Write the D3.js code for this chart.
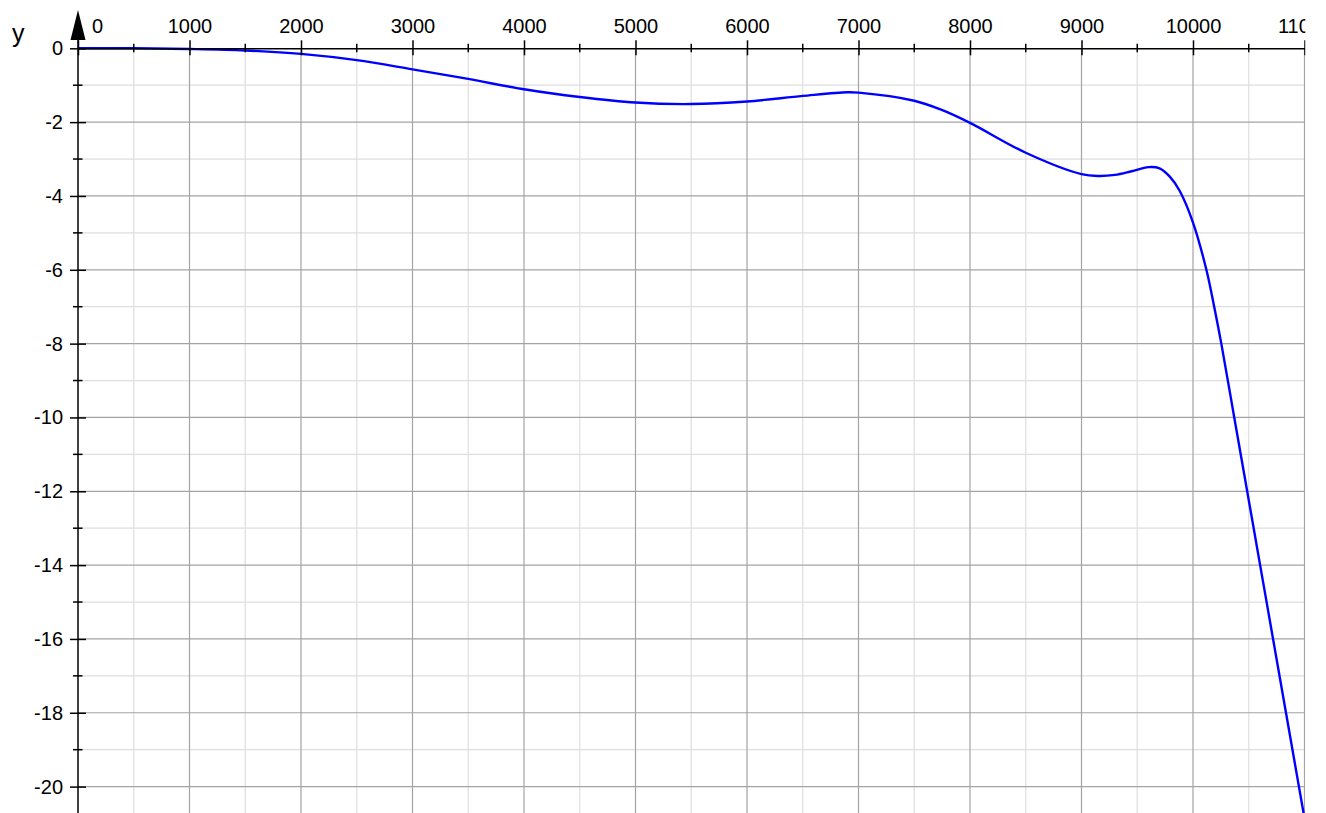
<!DOCTYPE html>
<html>
<head>
<meta charset="utf-8">
<script src="https://cdn.jsdelivr.net/npm/d3@7"></script>
<style>
  html, body { margin: 0; padding: 0; background: #fff; }
  svg { display: block; font-family: "Liberation Sans", Arial, Helvetica, sans-serif; }
</style>
</head>
<body>
<div id="chart-container"></div>
<script>
// data
const curveX = [0, 500, 1000, 1500, 2000, 2500, 3000, 3500, 4000, 4500, 5000, 5500, 6000, 6500, 6900, 7000, 7500, 7730, 8000, 8500, 9000, 9150, 9300, 9450, 9600, 9700, 9790, 9880, 10000, 10120, 10190, 10254, 10370, 10486, 10602, 10718, 10834, 10950, 11000];
const curveY = [0, 0, -0.02, -0.06, -0.15, -0.32, -0.57, -0.83, -1.11, -1.32, -1.47, -1.51, -1.44, -1.29, -1.19, -1.2, -1.42, -1.65, -2.02, -2.83, -3.41, -3.46, -3.43, -3.33, -3.22, -3.25, -3.47, -3.86, -4.72, -6, -7, -8, -10, -12, -14, -16, -18, -20, -20.86];
const xMajorTicks = [0, 1000, 2000, 3000, 4000, 5000, 6000, 7000, 8000, 9000, 10000, 11000];
const xMinorTicks = [500, 1500, 2500, 3500, 4500, 5500, 6500, 7500, 8500, 9500, 10500];
const yMajorTicks = [0, -2, -4, -6, -8, -10, -12, -14, -16, -18, -20];
const yMinorTicks = [-1, -3, -5, -7, -9, -11, -13, -15, -17, -19];

const W = 1326;
const H = 813;
const plot = { left: 78, right: 1304.5, top: 48.3, bottom: H };

const x = d3.scaleLinear().domain([0, 11000]).range([plot.left, plot.right]);
const y = d3.scaleLinear().domain([0, -20]).range([plot.top, 786.6]);

const svg = d3
  .select("#chart-container")
  .append("svg")
  .attr("width", W)
  .attr("height", H);

const defs = svg.append("defs");
defs
  .append("clipPath")
  .attr("id", "page-clip")
  .append("rect")
  .attr("x", 0)
  .attr("y", 0)
  .attr("width", plot.right + 0.8)
  .attr("height", H);
defs
  .append("clipPath")
  .attr("id", "plot-clip")
  .append("rect")
  .attr("x", plot.left)
  .attr("y", plot.top - 5)
  .attr("width", plot.right - plot.left + 1)
  .attr("height", H - plot.top + 5);

const root = svg.append("g").attr("clip-path", "url(#page-clip)");

renderGrid();
renderCurve();
renderXAxis();
renderYAxis();

function renderGrid() {
  const grid = root.append("g").attr("class", "grid");

  // minor lines first, major on top
  grid
    .selectAll(".vminor")
    .data(xMinorTicks)
    .enter()
    .append("line")
    .attr("x1", (d) => x(d))
    .attr("x2", (d) => x(d))
    .attr("y1", plot.top)
    .attr("y2", plot.bottom)
    .attr("stroke", "#dedede")
    .attr("stroke-width", 1.2);

  grid
    .selectAll(".hminor")
    .data(yMinorTicks)
    .enter()
    .append("line")
    .attr("x1", plot.left)
    .attr("x2", plot.right)
    .attr("y1", (d) => y(d))
    .attr("y2", (d) => y(d))
    .attr("stroke", "#dedede")
    .attr("stroke-width", 1.2);

  grid
    .selectAll(".vmajor")
    .data(xMajorTicks.filter((d) => d !== 0))
    .enter()
    .append("line")
    .attr("x1", (d) => x(d))
    .attr("x2", (d) => x(d))
    .attr("y1", plot.top)
    .attr("y2", plot.bottom)
    .attr("stroke", "#a3a3a3")
    .attr("stroke-width", 1.2);

  grid
    .selectAll(".hmajor")
    .data(yMajorTicks.filter((d) => d !== 0))
    .enter()
    .append("line")
    .attr("x1", plot.left)
    .attr("x2", plot.right)
    .attr("y1", (d) => y(d))
    .attr("y2", (d) => y(d))
    .attr("stroke", "#a3a3a3")
    .attr("stroke-width", 1.2);
}

function renderCurve() {
  const points = curveX.map((d, i) => [d, curveY[i]]);
  const line = d3
    .line()
    .x((d) => x(d[0]))
    .y((d) => y(d[1]))
    .curve(d3.curveCatmullRom.alpha(0.5));

  root
    .append("path")
    .datum(points)
    .attr("clip-path", "url(#plot-clip)")
    .attr("d", line)
    .attr("fill", "none")
    .attr("stroke", "#0000ff")
    .attr("stroke-width", 2.4)
    .attr("stroke-linejoin", "round");
}

function renderXAxis() {
  const axis = d3.axisTop(x).tickValues(xMajorTicks).tickFormat((d) => String(d)).tickSizeOuter(0);
  const g = root
    .append("g")
    .attr("transform", `translate(0, ${plot.top})`)
    .call(axis);

  g.select(".domain").attr("stroke", "#000").attr("stroke-width", 1.5);
  g.selectAll(".tick line").attr("y1", 7).attr("y2", -8).attr("stroke", "#000").attr("stroke-width", 1.5);
  g.selectAll(".tick text")
    .attr("y", -15)
    .attr("dy", 0)
    .attr("fill", "#000")
    .style("font-size", "20px")
    .attr("dx", (d) => (d === 0 ? 19 : 0));
  g.attr("font-family", null).attr("font-size", null);

  // minor ticks
  root
    .append("g")
    .selectAll("line")
    .data(xMinorTicks)
    .enter()
    .append("line")
    .attr("x1", (d) => x(d))
    .attr("x2", (d) => x(d))
    .attr("y1", plot.top - 4.5)
    .attr("y2", plot.top + 4)
    .attr("stroke", "#000")
    .attr("stroke-width", 1.5);
}

function renderYAxis() {
  const axis = d3.axisLeft(y).tickValues(yMajorTicks).tickFormat((d) => String(d)).tickSizeOuter(0);
  const g = root
    .append("g")
    .attr("transform", `translate(${plot.left}, 0)`)
    .call(axis);

  g.select(".domain").remove();
  g.selectAll(".tick line").attr("x1", 8).attr("x2", -8).attr("stroke", "#000").attr("stroke-width", 1.5);
  g.selectAll(".tick text")
    .attr("x", -15)
    .attr("fill", "#000")
    .style("font-size", "20px");
  g.attr("font-family", null).attr("font-size", null);

  root
    .append("g")
    .selectAll("line")
    .data(yMinorTicks)
    .enter()
    .append("line")
    .attr("x1", plot.left - 5)
    .attr("x2", plot.left + 4.5)
    .attr("y1", (d) => y(d))
    .attr("y2", (d) => y(d))
    .attr("stroke", "#000")
    .attr("stroke-width", 1.5);

  // axis line with arrow head
  root
    .append("line")
    .attr("x1", plot.left)
    .attr("x2", plot.left)
    .attr("y1", 38)
    .attr("y2", H)
    .attr("stroke", "#000")
    .attr("stroke-width", 1.5);

  root
    .append("path")
    .attr("d", `M${plot.left},10 L${plot.left + 7.5},40 L${plot.left - 7.5},40 Z`)
    .attr("fill", "#000");

  root
    .append("text")
    .attr("x", 12)
    .attr("y", 42)
    .style("font-size", "25px")
    .attr("fill", "#000")
    .text("y");
}
</script>
</body>
</html>
